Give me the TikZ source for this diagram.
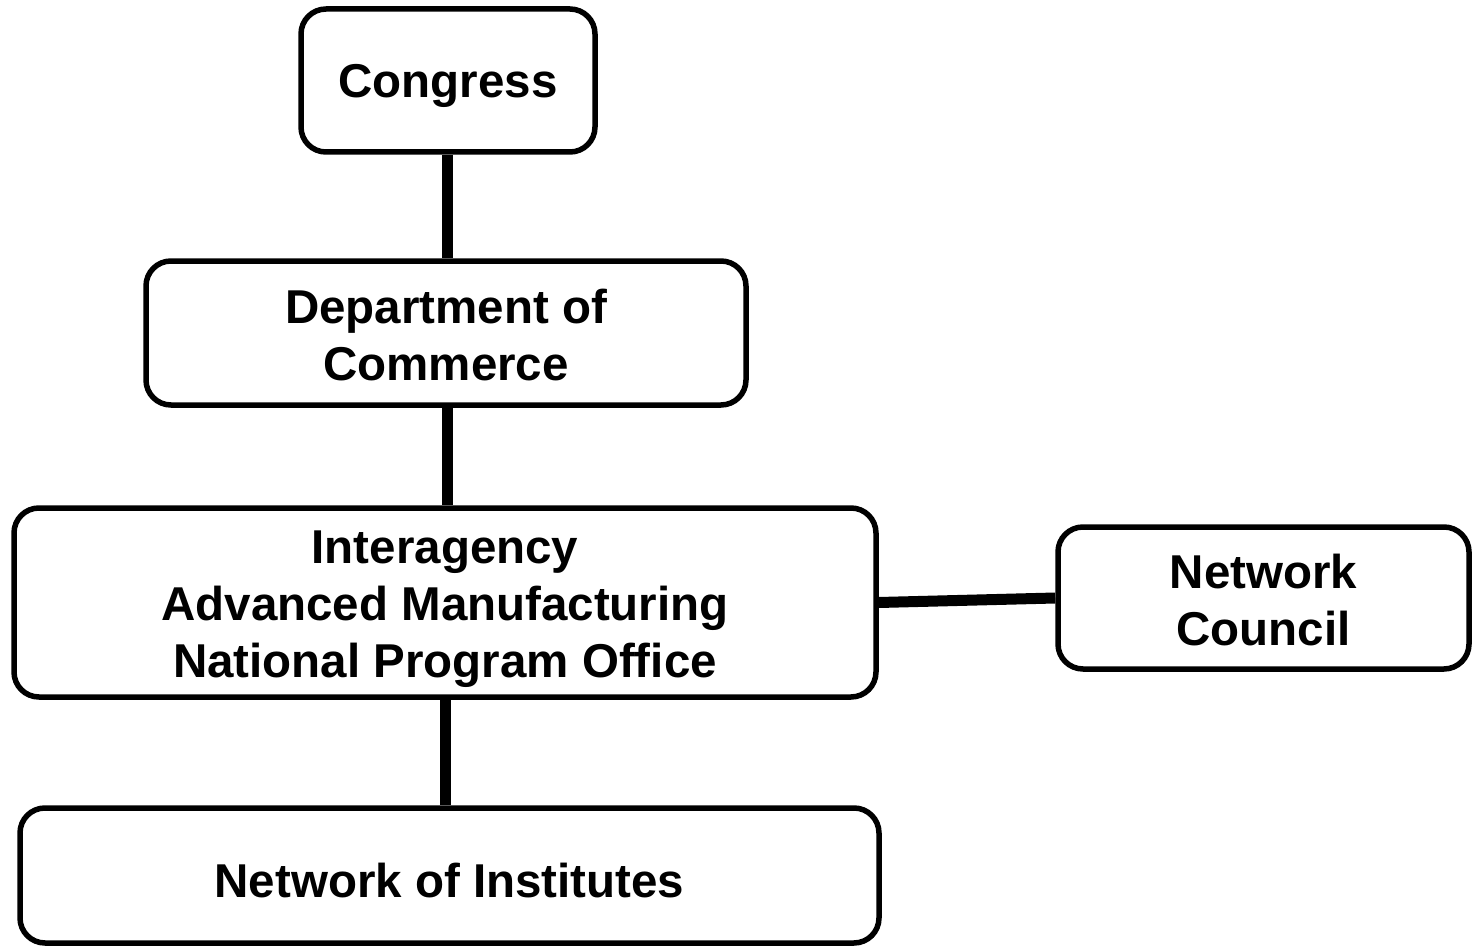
\documentclass[tikz,border=0pt]{standalone}
\usepackage{fontspec}
\setmainfont{Liberation Sans}
\newcommand{\lowtext}[2]{\raisebox{-#1}[\height][\depth]{\begin{tabular}{@{}c@{}}#2\end{tabular}}}
\tikzset{
  orgbox/.style={draw=black, line width=5.5pt, rounded corners=25pt, fill=white,
    inner sep=0pt, align=center, font=\fontsize{47.5}{57}\selectfont\bfseries},
  link/.style={draw=black, line width=11pt}
}
\begin{document}
\begin{tikzpicture}[x=1pt,y=-1pt]
\useasboundingbox (0,0) rectangle (1476,947);
\node[orgbox, minimum width=294pt, minimum height=143pt] (congress) at (448,80.5) {\lowtext{6pt}{Congress}};
\node[orgbox, minimum width=600pt, minimum height=144pt] (doc) at (446,333) {\lowtext{8pt}{Department of\\Commerce}};
\node[orgbox, minimum width=862pt, minimum height=189pt] (iampo) at (445,602.5) {\lowtext{7pt}{Interagency\\Advanced Manufacturing\\National Program Office}};
\node[orgbox, minimum width=411pt, minimum height=142pt] (council) at (1263.5,598) {\lowtext{8pt}{Network\\Council}};
\node[orgbox, minimum width=859pt, minimum height=135pt] (inst) at (449.5,875.5) {\lowtext{11pt}{Network of Institutes}};
\draw[link] (congress.south -| 447,0) -- (doc.north -| 447,0);
\draw[link] (doc.south -| 447,0) -- (iampo.north -| 447,0);
\draw[link] (iampo.south -| 445,0) -- (inst.north -| 445,0);
\draw[link] (iampo.east) -- (council.west);
\end{tikzpicture}
\end{document}
